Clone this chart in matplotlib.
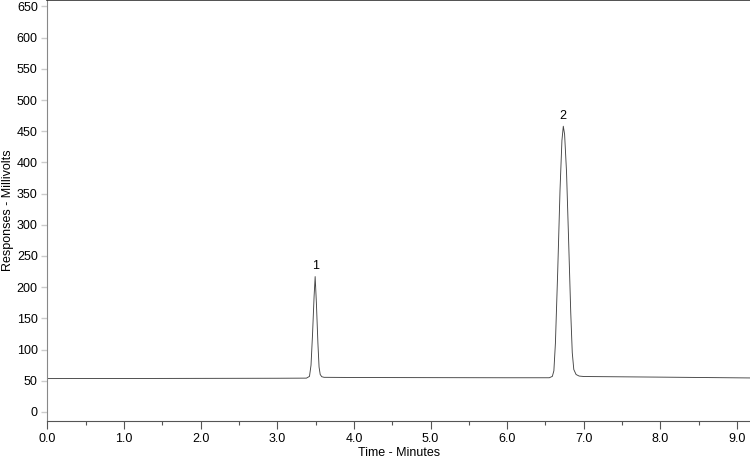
import matplotlib
matplotlib.use("Agg")
import matplotlib.pyplot as plt
from matplotlib.ticker import MultipleLocator

plt.rcParams['font.family'] = ['Liberation Sans', 'DejaVu Sans']

# trace (minutes, millivolts)
time_min = [0.0, 1.0, 2.0, 3.0, 3.38, 3.42, 3.44, 3.46, 3.48, 3.494,
            3.51, 3.53, 3.545, 3.56, 3.58, 3.61, 4.0, 5.0, 6.0, 6.55,
            6.59, 6.61, 6.63, 6.66, 6.69, 6.715, 6.733, 6.75, 6.775, 6.80,
            6.83, 6.85, 6.87, 6.90, 6.94, 7.0, 8.0, 9.17]
response_mv = [53.5, 53.6, 53.8, 54.0, 54.2, 57, 75, 125, 185, 217,
               175, 110, 72, 60, 56.5, 55.5, 55.2, 55.0, 54.8, 54.8,
               57, 66, 110, 225, 355, 435, 458, 445, 385, 285,
               160, 95, 68, 60, 57.5, 56.8, 55.8, 54.5]

peak_labels = ["1", "2"]
peak_times = [3.494, 6.733]
peak_heights = [217, 458]

fig = plt.figure(figsize=(7.5, 4.58), dpi=100)
ax = fig.add_axes([0.0633, 0.0815, 0.9367, 0.918])

ax.plot(time_min, response_mv, color="#444444", lw=0.65)

for lab, t, h in zip(peak_labels, peak_times, peak_heights):
    ax.annotate(lab, (t, h), xytext=(0, 3), textcoords="offset points",
                ha="center", va="bottom", fontsize=9)

ax.set_xlim(0, 9.17)
ax.set_ylim(-14, 660)
ax.xaxis.set_major_locator(MultipleLocator(1.0))
ax.xaxis.set_minor_locator(MultipleLocator(0.5))
ax.yaxis.set_major_locator(MultipleLocator(50))
ax.xaxis.set_major_formatter(plt.FormatStrFormatter("%.1f"))

ax.tick_params(axis="x", which="major", length=6, width=0.8, color="#555555",
               labelsize=9, pad=3)
ax.tick_params(axis="x", which="minor", length=3, width=0.8, color="#555555")
ax.tick_params(axis="y", which="major", length=4, width=1.0, color="#cccccc",
               labelsize=9, pad=3)

ax.spines["right"].set_visible(False)
ax.spines["top"].set_color("#333333")
ax.spines["top"].set_linewidth(1.2)
ax.spines["bottom"].set_color("#555555")
ax.spines["left"].set_color("#888888")

ax.set_xlabel("Time - Minutes", fontsize=9, labelpad=1)
ax.set_ylabel("Responses - Millivolts", fontsize=9, labelpad=2)

fig.savefig("out.png", dpi=100)
